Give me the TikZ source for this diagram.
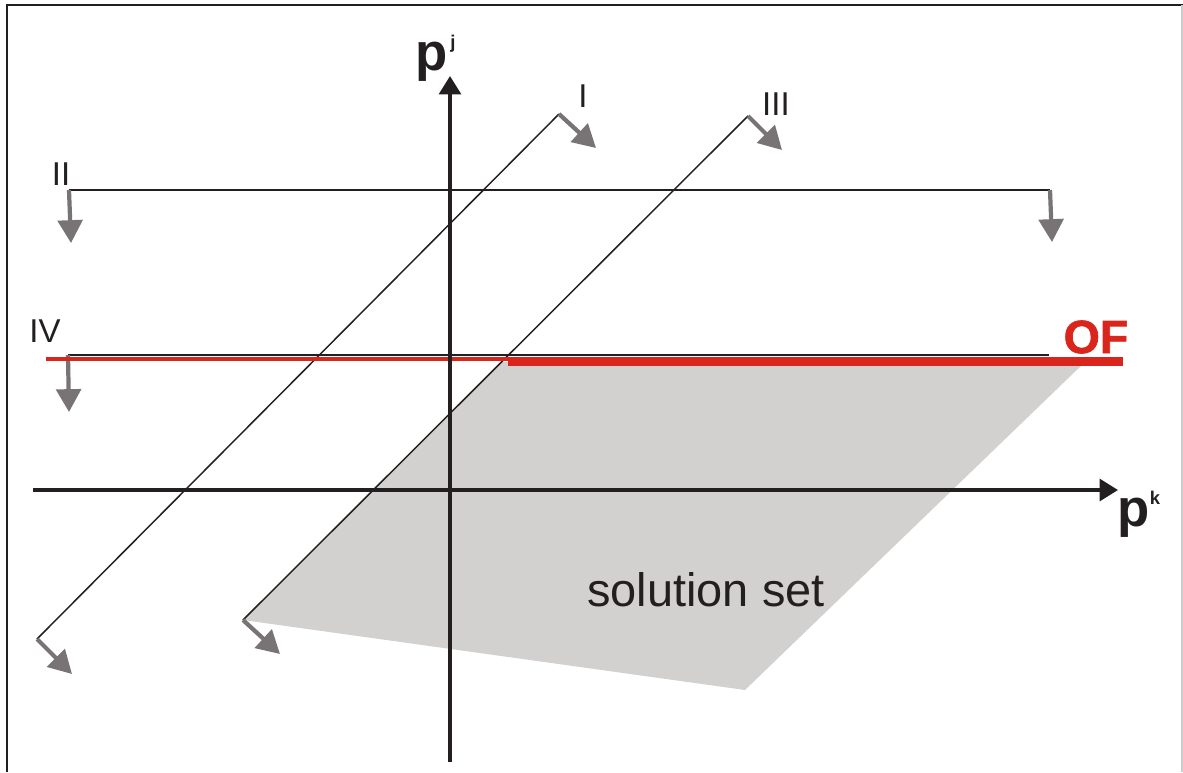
\documentclass[tikz,border=0pt]{standalone}
\usepackage{fontspec}
\setmainfont{Liberation Sans}
\usetikzlibrary{arrows.meta}
\definecolor{inkc}{RGB}{35,31,32}
\definecolor{arrgray}{RGB}{120,115,117}
\definecolor{setgray}{RGB}{211,208,208}
\definecolor{ofred}{RGB}{218,37,29}
\tikzset{
  thinline/.style={draw=inkc, line width=0.85pt},
  normarrow/.style={draw=arrgray, line width=2.4pt, -{Triangle[length=13pt,width=14pt]}},
  axisline/.style={draw=inkc, line width=2pt, -{Triangle[length=10.5pt,width=12.5pt]}},
  lbl/.style={font=\fontsize{18.8}{20}\selectfont, text=inkc, inner sep=0pt},
  axlbl/.style={font=\fontsize{30}{32}\selectfont\bfseries, text=inkc, inner sep=0pt},
  suplbl/.style={font=\fontsize{10.5}{11}\selectfont\bfseries, text=inkc, inner sep=0pt}
}
\begin{document}
\begin{tikzpicture}[x=0.02cm, y=-0.02cm]
\useasboundingbox (0,0) rectangle (1183,772);
% frame
\draw[inkc, line width=1.2pt] (7,772) -- (7,5) -- (1183,5);
\draw[black!20, line width=0.6pt] (1182,5) -- (1182,772);
% solution set
\coordinate (s1) at (501,362);
\coordinate (s2) at (1085,362);
\coordinate (s3) at (745,690);
\coordinate (s4) at (243,620);
\fill[setgray] (s1) -- (s2) -- (s3) -- (s4) -- cycle;
\node[font=\fontsize{26.7}{28}\selectfont, text=inkc] (sol) at (706,590) {solution set};
% constraint lines
\coordinate (Ia) at (37,639);
\coordinate (Ib) at (559,114);
\coordinate (IIIa) at (243,620);
\coordinate (IIIb) at (748,116);
\coordinate (IIa) at (69,190);
\coordinate (IIb) at (1050,190);
\coordinate (IVa) at (68,355);
\coordinate (IVb) at (1049,355);
\draw[thinline] (Ia) -- (Ib);
\draw[thinline] (IIIa) -- (IIIb);
\draw[thinline] (IIa) -- (IIb);
\draw[thinline] (IVa) -- (IVb);
% normal arrows
\coordinate (tIa) at (72,674);
\coordinate (tIb) at (596,148);
\coordinate (tIIIa) at (280,654);
\coordinate (tIIIb) at (782,150);
\coordinate (tIIa) at (71,243);
\coordinate (tIIb) at (1052,242);
\coordinate (tIVa) at (69,412);
\draw[normarrow] (Ia) -- (tIa);
\draw[normarrow] (Ib) -- (tIb);
\draw[normarrow] (IIIa) -- (tIIIa);
\draw[normarrow] (IIIb) -- (tIIIb);
\draw[normarrow] (IIa) -- (tIIa);
\draw[normarrow] (IIb) -- (tIIb);
\draw[normarrow] (IVa) -- (tIVa);
% OF line
\coordinate (ofa) at (46,359);
\coordinate (ofm) at (508,362);
\coordinate (ofb) at (1123,362);
\draw[ofred, line width=2.8pt] (ofa) -- (1123,359);
\draw[ofred, line width=4pt] (ofm) -- (ofb);
\node[font=\fontsize{26.5}{28}\selectfont\bfseries, text=ofred, inner sep=0pt, draw=ofred, draw opacity=0, text opacity=1] (of) at (1096,337) {\addfontfeature{FakeBold=1.5}OF};
% labels
\node[lbl] (lI) at (583,96) {I};
\node[lbl] (lIII) at (776,104) {III};
\node[lbl] (lII) at (61,174) {II};
\node[lbl] (lIV) at (45,331) {IV};
% axes
\coordinate (xa) at (33,490);
\coordinate (xb) at (1118,490);
\coordinate (ya) at (450,762);
\coordinate (yb) at (450,76);
\draw[axisline] (xa) -- (xb);
\draw[axisline] (ya) -- (yb);
\node[axlbl] (pj) at (432,62) {p};
\node[suplbl] (sj) at (453,44) {j};
\node[axlbl] (pk) at (1134,518) {p};
\node[suplbl] (sk) at (1155,498) {k};
\end{tikzpicture}
\end{document}
